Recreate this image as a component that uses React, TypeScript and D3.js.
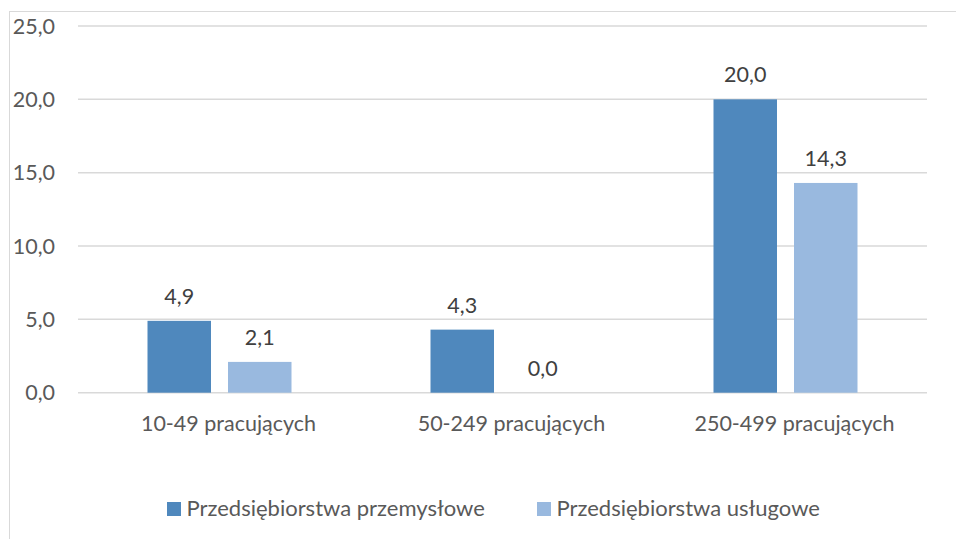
import React from "react";
import * as d3 from "d3";

const categories = ["10-49 pracujących", "50-249 pracujących", "250-499 pracujących"];
const seriesNames = ["Przedsiębiorstwa przemysłowe", "Przedsiębiorstwa usługowe"];
const industrial = [4.9, 4.3, 20.0];
const services = [2.1, 0.0, 14.3];
const yTicks = [0, 5, 10, 15, 20, 25];
const colors = ["#4F88BD", "#99B9DF"];

const W = 956;
const H = 539;
const plotLeft = 78;
const plotRight = 927;
const plotTop = 26;
const plotBottom = 392.7;
const FONT = "Lato, 'Open Sans', sans-serif";

export default function App() {
  const x0 = d3.scaleBand<string>().domain(categories).range([plotLeft, plotRight]);
  const y = d3.scaleLinear().domain([0, 25]).range([plotBottom, plotTop]);
  const series = [industrial, services];
  const barW = 63.5;
  const gap = 17;
  const fmt = (v: number) => v.toFixed(1).replace(".", ",");
  const legendX = [167, 537];

  return (
    <svg width={W} height={H} style={{ position: "absolute", left: 0, top: 0, background: "#fff" }} fontFamily={FONT}>
      <rect x={9.5} y={11.5} width={2000} height={2000} fill="none" stroke="#D9D9D9" strokeWidth={1} />
      {yTicks.map((t) => (
        <g key={t}>
          <line x1={plotLeft} x2={plotRight} y1={y(t)} y2={y(t)} stroke="#D9D9D9" strokeWidth={1.5} />
          <text x={55} y={y(t) + 7.5} textAnchor="end" fontSize={21.5} fill="#595959">
            {fmt(t)}
          </text>
        </g>
      ))}
      {categories.map((c, i) => {
        const cx = (x0(c) as number) + x0.bandwidth() / 2;
        return (
          <g key={c}>
            {series.map((s, j) => {
              const bx = cx - barW - gap / 2 + j * (barW + gap);
              const v = s[i];
              return (
                <g key={j}>
                  {v > 0 && (
                    <rect x={bx} y={y(v)} width={barW} height={plotBottom - y(v)} fill={colors[j]} />
                  )}
                  <text x={bx + barW / 2} y={y(v) - 17} textAnchor="middle" fontSize={21.5} fill="#404040">
                    {fmt(v)}
                  </text>
                </g>
              );
            })}
            <text x={cx + 9} y={431} textAnchor="middle" fontSize={21.5} fill="#595959">
              {c}
            </text>
          </g>
        );
      })}
      {seriesNames.map((n, j) => {
        const lx = legendX[j];
        return (
          <g key={n}>
            <rect x={lx} y={502} width={14} height={14} fill={colors[j]} />
            <text x={lx + 19.5} y={516} fontSize={22} fill="#595959">
              {n}
            </text>
          </g>
        );
      })}
    </svg>
  );
}
